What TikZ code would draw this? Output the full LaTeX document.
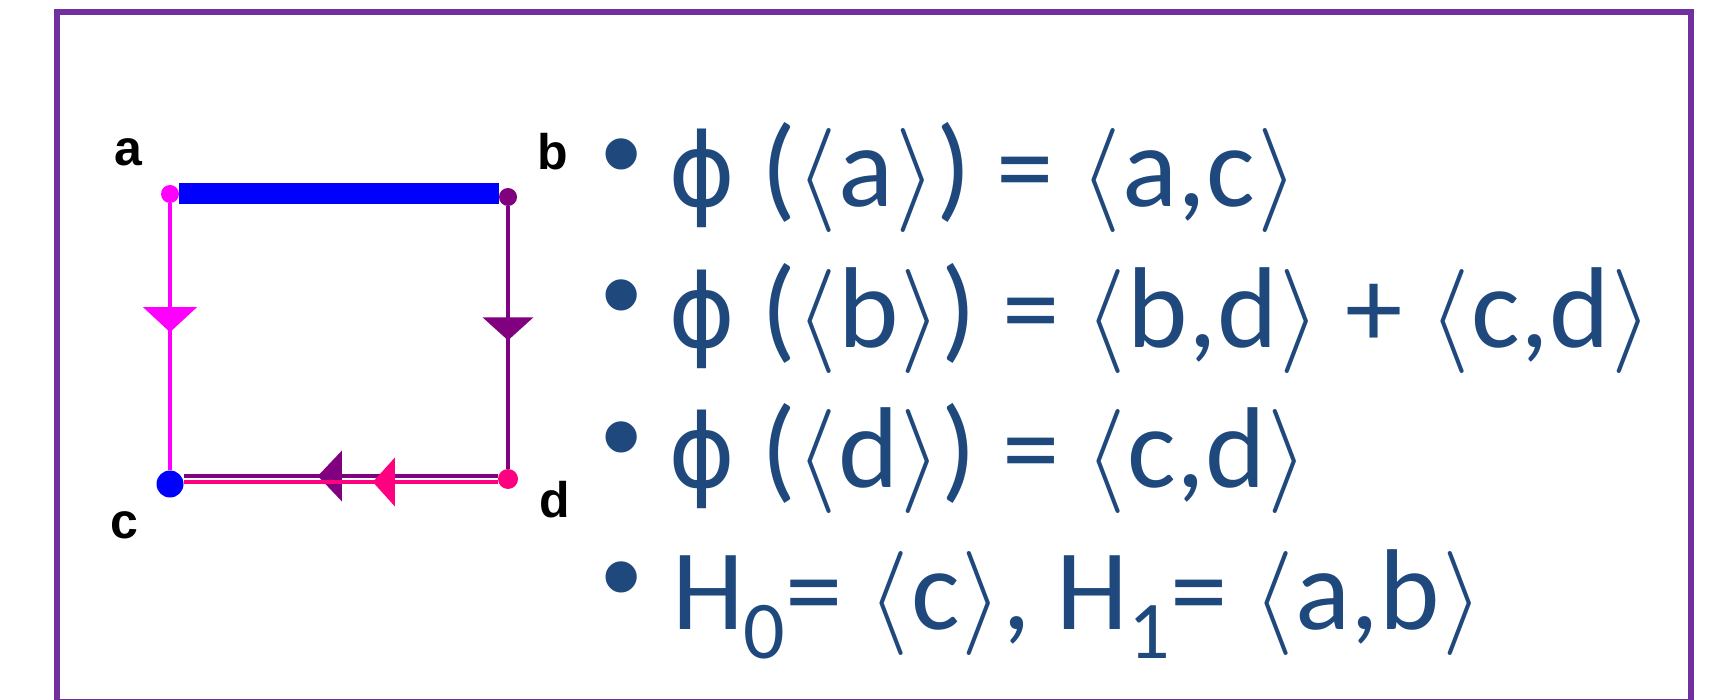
\RequirePackage{fix-cm}
\documentclass[tikz,border=0pt]{standalone}
\usepackage{fontspec}
\setmainfont{Carlito}
\newfontfamily\labfont{Liberation Sans}
\newfontfamily\phifont{DejaVu Sans}
\usetikzlibrary{arrows.meta,decorations.markings,calc}
\definecolor{framecol}{HTML}{7030A0}
\definecolor{txt}{HTML}{1F497D}
\definecolor{mag}{HTML}{FF00FF}
\definecolor{pur}{HTML}{800080}
\definecolor{pnk}{HTML}{FF0080}
\definecolor{blu}{HTML}{0000FF}
\newcommand\myL{\mbox{\fontsize{104}{104}\selectfont$\langle$}\hspace{2pt}}
\newcommand\myR{\hspace{2pt}\mbox{\fontsize{104}{104}\selectfont$\rangle$}}
\newcommand\myPhi{\makebox[93pt][l]{\phifont\fontsize{102}{102}\selectfont ϕ}}
\newcommand\mysub[1]{\raisebox{-29pt}{\fontsize{82}{82}\selectfont #1}}
\begin{document}
\begin{tikzpicture}[x=1pt,y=-1pt,
  vdot/.style={circle,inner sep=0pt,minimum size=#1},
  lbl/.style={font=\fontsize{50}{50}\selectfont\labfont\bfseries,inner sep=0pt},
  eqline/.style={anchor=base west,inner sep=0pt,text=txt,font=\fontsize{115}{115}\selectfont},
  bulletmark/.style={inner sep=0pt,text=txt,font=\fontsize{115}{115}\selectfont\labfont},
  midarrow/.style n args={3}{postaction={decorate},decoration={markings,mark=at position #1 with {\arrow{Triangle[width=#2pt,length=#3pt]}}}},
]
\useasboundingbox (0,0) rectangle (1733,700);
\draw[framecol,line width=6pt] (57,12) rectangle (1691,702);

% vertices
\node[vdot=18pt,fill=mag] (a) at (170,194) {};
\node[vdot=18pt,fill=pur] (b) at (508,197) {};
\node[vdot=27pt,fill=blu] (c) at (170,484) {};
\node[vdot=20pt,fill=pnk] (d) at (508,479) {};

% labels
\node[lbl] (la) at (128,152) {a};
\node[lbl] (lb) at (553,152) {b};
\node[lbl] (lc) at (124,525) {c};
\node[lbl] (ld) at (555,500) {d};

% edges
\draw[blu,line width=21pt] (a.east) -- (a.east -| b.west);
\draw[mag,line width=4pt,midarrow={0.483}{53}{25}] (a) -- (c);
\draw[pur,line width=4pt,midarrow={0.511}{50}{23}] (b) -- (d);
\draw[pur,line width=3.5pt,midarrow={0.573}{50}{24}] ([yshift=3pt]d.west) -- ([yshift=3pt]d.west -| c.east);
\draw[pnk,line width=3.5pt,midarrow={0.398}{48}{22}] ([yshift=-3pt]d.west) -- ([yshift=-3pt]d.west -| c.east);

% text
\node[bulletmark] (b1) at (622,166) {•};
\node[bulletmark] (b2) at (622,307) {•};
\node[bulletmark] (b3) at (622,449) {•};
\node[bulletmark] (b4) at (622,589) {•};
\node[eqline] (t1) at (668,207) {\myPhi(\myL a\myR)\ =\ \myL a,c\myR};
\node[eqline] (t2) at (668,348) {\myPhi(\myL b\myR)\ =\ \myL b,d\myR\ +\ \myL c,d\myR};
\node[eqline] (t3) at (668,488) {\myPhi(\myL d\myR)\ =\ \myL c,d\myR};
\node[eqline] (t4) at (672,629) {H\mysub{0}=\ \myL c\myR, H\mysub{1}=\ \myL a,b\myR};
\end{tikzpicture}
\end{document}
